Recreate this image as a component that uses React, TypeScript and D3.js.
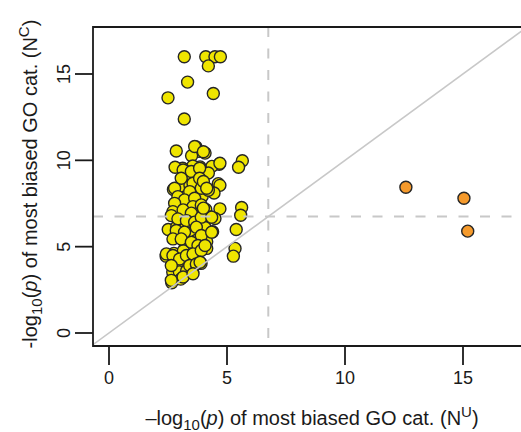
import { useEffect } from "react";
import * as d3 from "d3";

// -log10(p) for N^U (x) and N^C (y), genes below/above the diagonal
const yellowU = [
  3.19, 4.1, 4.49, 4.72, 4.21, 3.33, 2.5, 4.42, 3.19, 2.85, 3.69, 4.07, 3.81, 3.5, 5.65, 5.49, 4.67,
  4.36, 3.86, 3.55, 3.12, 2.8, 3.22, 3.22, 3.5, 3.81, 4.21, 2.73, 3.08, 3.43, 3.86, 4.07, 4.63, 4.7,
  4.45, 2.87, 3.22, 3.72, 3.95, 4.21, 3.01, 3.61, 4.1, 4.7, 5.62, 5.58, 2.73, 3.08, 3.39, 4.32, 4.49,
  3.74, 2.51, 2.87, 3.22, 4.07, 4.39, 5.39, 2.84, 3.43, 3.19, 3.72, 4.14, 3.72, 4.14, 5.34, 5.27, 2.42,
  2.75, 3.15, 2.8, 2.97, 3.32, 3.69, 3.72, 3.9, 2.7, 2.98, 3.29, 3.55, 2.66, 3.04, 3.63, 3.14, 3.49,
  3.84, 3.06, 3.56, 3.84, 2.78, 3.42, 3.91, 2.92, 3.2, 3.63, 2.78, 3.56, 3.91, 2.71, 3.14, 3.49, 2.64,
  2.92, 3.28, 3.63, 3.91, 2.85, 3.2, 3.7, 3.91, 2.71, 3.06, 3.49, 3.77, 2.43, 2.71, 2.99, 3.28, 3.56,
  3.91, 2.64, 3.42, 3.7, 2.64, 3.14, 3.56, 4.35, 4.35, 4.07, 3.86, 4.0, 4.7, 4.0, 4.14, 4.0,
];
const yellowC = [
  16.0, 16.0, 16.0, 16.0, 15.47, 14.53, 13.62, 13.87, 12.39, 10.54, 10.77, 10.42, 10.52, 10.27, 9.98,
  9.6, 9.77, 9.65, 9.62, 9.67, 9.54, 9.6, 9.03, 8.94, 9.13, 9.23, 9.27, 8.31, 8.5, 8.55, 8.5, 8.31,
  8.65, 8.55, 8.11, 7.59, 7.88, 7.73, 7.92, 8.27, 7.21, 7.15, 7.15, 7.19, 7.27, 6.82, 6.92, 6.63, 6.53,
  6.72, 6.63, 6.24, 5.99, 6.15, 6.05, 6.11, 5.86, 5.99, 5.66, 5.76, 5.28, 5.38, 5.28, 4.99, 4.9, 4.9,
  4.45, 4.45, 4.61, 4.76, 4.12, 4.16, 4.26, 4.61, 4.12, 4.03, 3.54, 3.54, 3.6, 3.54, 2.91, 3.12, 10.8,
  9.44, 9.35, 9.54, 8.96, 8.67, 8.96, 8.38, 8.19, 8.38, 7.9, 7.71, 7.8, 7.51, 7.32, 7.42, 7.03, 7.13,
  6.94, 6.8, 6.61, 6.51, 6.42, 6.71, 5.94, 5.84, 6.13, 5.65, 5.45, 5.45, 5.26, 5.07, 4.58, 4.49, 4.29,
  4.49, 4.58, 4.78, 3.91, 3.91, 4.0, 3.05, 3.24, 3.43, 6.71, 5.84, 5.07, 4.1, 10.5, 9.83, 8.77, 8.38,
  7.23,
];
const orangeU = [12.58, 15.04, 15.2];
const orangeC = [8.44, 7.8, 5.9];

const xTicks = [0, 5, 10, 15];
const yTicks = [0, 5, 10, 15];
const threshold = 6.75;

const W = 521;
const H = 432;
const font = "'Liberation Sans', Arial, sans-serif";

const x = d3.scaleLinear().domain([0, 15]).range([109, 463]);
const y = d3.scaleLinear().domain([0, 15]).range([333, 74]);

const App = () => {
  useEffect(() => {
    document.body.style.margin = "0";
  }, []);

  const left = 93;
  const top = 27;
  const bottom = 346;
  const right = 540;
  const xMin = x.invert(left);
  const xMax = x.invert(right);
  const yMin = y.invert(bottom);
  const yMax = y.invert(top);

  const yellow = yellowU.map((u, i) => ({ u, c: yellowC[i] }));
  const orange = orangeU.map((u, i) => ({ u, c: orangeC[i] }));

  const dLo = Math.max(xMin, yMin);
  const dHi = Math.min(xMax, yMax);

  return (
    <svg width={W} height={H} style={{ display: "block", background: "#fff" }}>
      <defs>
        <clipPath id="plot">
          <rect x={left} y={top} width={right - left} height={bottom - top} />
        </clipPath>
      </defs>

      <g clipPath="url(#plot)">
        {yellow.map((d, i) => (
          <circle
            key={"y" + i}
            cx={x(d.u)}
            cy={y(d.c)}
            r={6}
            fill="#efe500"
            stroke="#262626"
            strokeWidth={1.4}
          />
        ))}
        {orange.map((d, i) => (
          <circle
            key={"o" + i}
            cx={x(d.u)}
            cy={y(d.c)}
            r={6}
            fill="#f59a2c"
            stroke="#262626"
            strokeWidth={1.4}
          />
        ))}

        <line
          x1={x(dLo)}
          y1={y(dLo)}
          x2={x(dHi)}
          y2={y(dHi)}
          stroke="#c8c8c8"
          strokeWidth={1.6}
        />
        <line
          x1={x(threshold)}
          x2={x(threshold)}
          y1={top}
          y2={bottom}
          stroke="#c8c8c8"
          strokeWidth={2}
          strokeDasharray="10,11.5"
        />
        <line
          x1={left}
          x2={right}
          y1={y(threshold)}
          y2={y(threshold)}
          stroke="#c8c8c8"
          strokeWidth={2}
          strokeDasharray="10,11.5"
        />
      </g>

      {/* box */}
      <path
        d={`M${right},${top}H${left}V${bottom}H${right}`}
        fill="none"
        stroke="#1a1a1a"
        strokeWidth={1.8}
      />

      {/* x axis */}
      {xTicks.map((t) => (
        <g key={"xt" + t}>
          <line x1={x(t)} x2={x(t)} y1={bottom} y2={bottom + 19} stroke="#1a1a1a" strokeWidth={1.8} />
          <text x={x(t)} y={384} textAnchor="middle" fontFamily={font} fontSize={18} fill="#1a1a1a">
            {t}
          </text>
        </g>
      ))}

      {/* y axis */}
      {yTicks.map((t) => (
        <g key={"yt" + t}>
          <line x1={left - 18} x2={left} y1={y(t)} y2={y(t)} stroke="#1a1a1a" strokeWidth={1.8} />
          <text
            transform={`translate(70,${y(t)}) rotate(-90)`}
            textAnchor="middle"
            fontFamily={font}
            fontSize={18}
            fill="#1a1a1a"
          >
            {t}
          </text>
        </g>
      ))}

      <text x={312} y={425} textAnchor="middle" fontFamily={font} fontSize={20} fill="#1a1a1a">
        –log
        <tspan fontSize={15} dy={5}>10</tspan>
        <tspan dy={-5}>(</tspan>
        <tspan fontStyle="italic">p</tspan>
        <tspan>) of most biased GO cat. (N</tspan>
        <tspan fontSize={15} dy={-8}>U</tspan>
        <tspan dy={8}>)</tspan>
      </text>

      <text
        transform="translate(37,184) rotate(-90)"
        textAnchor="middle"
        fontFamily={font}
        fontSize={20}
        fill="#1a1a1a"
      >
        -log
        <tspan fontSize={15} dy={5}>10</tspan>
        <tspan dy={-5}>(</tspan>
        <tspan fontStyle="italic">p</tspan>
        <tspan>) of most biased GO cat. (N</tspan>
        <tspan fontSize={15} dy={-8}>C</tspan>
        <tspan dy={8}>)</tspan>
      </text>
    </svg>
  );
};

export default App;
